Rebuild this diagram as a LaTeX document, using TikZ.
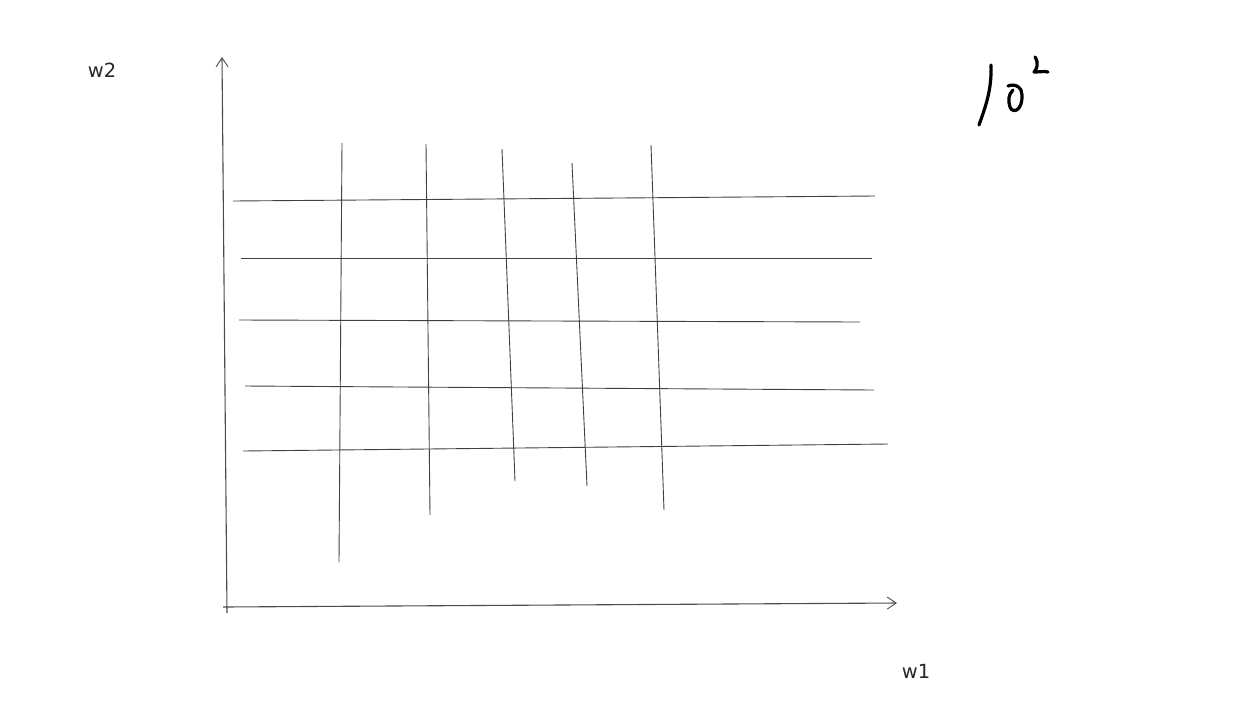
\documentclass[tikz,border=0pt]{standalone}
\usepackage{fontspec}
\setmainfont{DejaVu Sans}
\usetikzlibrary{arrows.meta}
\begin{document}
\begin{tikzpicture}[x=1pt,y=-1pt,
  gridline/.style={draw=black!75,line width=0.9pt},
  axis/.style={draw=black!70,line width=1.1pt,-{Straight Barb[length=9pt,width=12pt,line width=0.9pt]}},
  lbl/.style={font=\fontsize{19.5}{22}\selectfont,text=black!85,inner sep=0pt},
  ink/.style={draw=black,line width=3.2pt,line cap=round,line join=round}]
\useasboundingbox (0,0) rectangle (1239,724);
% axes
\coordinate (o1) at (227,613);
\coordinate (ytop) at (222,57);
\coordinate (o2) at (223,607);
\coordinate (xend) at (897,603);
\draw[axis] (o1) -- (ytop);
\draw[axis] (o2) -- (xend);
% horizontal lines
\draw[gridline] (233,201) -- (875,196);
\draw[gridline] (241,258) -- (872,258);
\draw[gridline] (239,320) -- (860,322);
\draw[gridline] (245,386) -- (874,390);
\draw[gridline] (243,451) -- (888,444);
% vertical lines
\draw[gridline] (342,143) -- (339,562);
\draw[gridline] (426,144) -- (430,515);
\draw[gridline] (502,149) -- (515,481);
\draw[gridline] (572,163) -- (587,486);
\draw[gridline] (651,145) -- (664,510);
% labels
\node[lbl] (w2) at (102,70) {w2};
\node[lbl] (w1) at (916,671) {w1};
% handwriting
\draw[ink] (991,65) .. controls (992,90) and (985,108) .. (979,125);
\draw[ink] (1008,86) .. controls (1013,84) and (1018,85) .. (1021,90)
  .. controls (1023,96) and (1022,104) .. (1019,108)
  .. controls (1016,112) and (1011,111) .. (1010,107)
  .. controls (1008,101) and (1008,95) .. (1013,90);
\draw[ink] (1035,57) .. controls (1039,63) and (1037,69) .. (1034,72)
  .. controls (1040,72) and (1044,71) .. (1048,72);
\end{tikzpicture}
\end{document}
